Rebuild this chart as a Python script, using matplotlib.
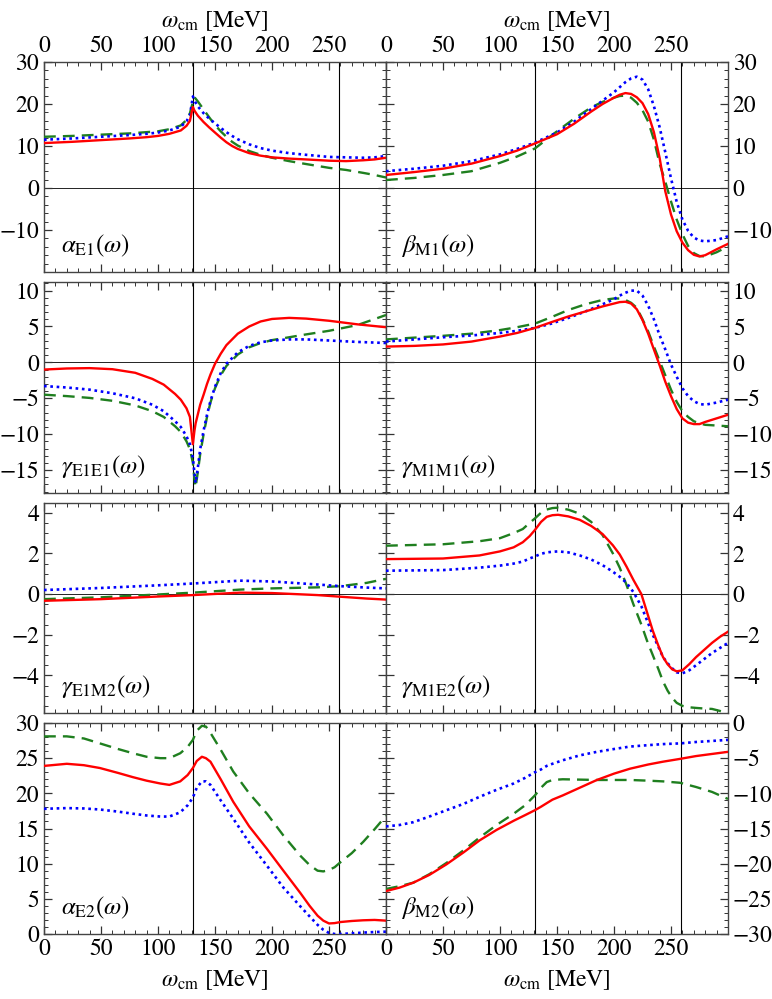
import matplotlib
matplotlib.use("Agg")
import matplotlib.pyplot as plt
from matplotlib.ticker import MultipleLocator, FixedLocator

plt.rcParams['font.family'] = ['STIXGeneral', 'DejaVu Serif']
plt.rcParams['mathtext.fontset'] = 'stix'

TH1 = 130.6
TH2 = 259.0

# ---- alpha_E1 ----
aE1_x = [0, 25, 50, 75, 90, 100, 110, 120, 125, 128, 130.6, 132, 135, 140, 145, 150, 155, 160, 165, 170, 180, 190, 200, 215, 230, 250, 265, 280, 290, 300]
aE1_red = [10.7, 11.0, 11.4, 11.8, 12.1, 12.4, 12.9, 13.7, 14.8, 16.0, 19.3, 18.4, 17.2, 15.7, 14.4, 13.2, 12.0, 10.9, 10.0, 9.3, 8.3, 7.7, 7.3, 7.0, 6.8, 6.5, 6.4, 6.6, 6.8, 7.2]
aE1_blue = [11.5, 11.8, 12.2, 12.6, 12.9, 13.2, 13.7, 14.6, 15.9, 17.3, 21.8, 20.8, 19.4, 17.8, 16.5, 15.4, 14.3, 13.3, 12.4, 11.6, 10.4, 9.5, 8.9, 8.3, 7.9, 7.4, 7.3, 7.2, 7.3, 7.6]
aE1_green = [12.2, 12.4, 12.7, 13.0, 13.3, 13.5, 14.0, 14.9, 16.2, 17.8, 20.5, 21.6, 20.6, 18.7, 16.8, 15.0, 13.5, 12.2, 11.0, 10.1, 8.8, 7.9, 7.2, 6.4, 5.7, 4.8, 4.3, 3.6, 3.1, 2.5]

# ---- beta_M1 ----
bM1_x = [0, 25, 50, 75, 100, 115, 130.6, 150, 165, 180, 190, 200, 205, 210, 215, 220, 225, 230, 235, 240, 245, 250, 255, 260, 265, 270, 275, 280, 290, 300]
bM1_red = [3.1, 3.8, 4.6, 5.8, 7.6, 8.9, 10.6, 12.8, 15.3, 18.2, 20.0, 21.5, 22.2, 22.6, 22.4, 21.6, 20.2, 17.6, 13.3, 7.2, -0.8, -6.3, -10.3, -13.0, -14.8, -15.9, -16.3, -16.0, -14.6, -13.3]
bM1_blue = [4.0, 4.6, 5.3, 6.4, 8.0, 9.3, 10.8, 13.2, 15.8, 18.8, 20.8, 22.8, 24.0, 25.2, 26.1, 26.5, 25.8, 23.5, 19.5, 14.5, 8.5, 2.3, -3.3, -7.5, -10.2, -11.8, -12.5, -12.7, -12.4, -11.5]
bM1_green = [1.9, 2.4, 3.1, 4.0, 6.0, 7.5, 9.4, 13.5, 16.5, 19.2, 20.5, 21.5, 21.9, 22.0, 21.5, 20.3, 18.5, 15.8, 11.5, 5.8, 1.5, -3.2, -7.5, -11.0, -13.8, -15.5, -16.2, -16.3, -15.3, -13.9]

# ---- gamma_E1E1 ----
gEE_x = [0, 20, 40, 60, 80, 95, 105, 115, 120, 125, 128, 130.6, 132, 133, 135, 137, 140, 143, 146, 150, 155, 160, 170, 180, 190, 200, 215, 230, 250, 275, 300]
gEE_red = [-1.0, -0.85, -0.8, -0.95, -1.45, -2.3, -3.1, -4.4, -5.2, -6.4, -7.6, -11.4, -9.5, -8.5, -7.2, -5.9, -4.5, -3.0, -1.7, -0.2, 1.2, 2.4, 4.0, 5.0, 5.7, 6.05, 6.2, 6.1, 5.8, 5.3, 4.9]
gEE_blue = [-3.3, -3.5, -3.8, -4.3, -5.0, -5.9, -6.8, -8.2, -9.0, -10.3, -11.4, -13.3, -15.5, -16.8, -14.6, -12.1, -9.5, -7.3, -5.4, -3.4, -1.5, -0.2, 1.4, 2.3, 2.8, 3.05, 3.2, 3.2, 3.05, 2.85, 2.7]
gEE_green = [-4.5, -4.7, -4.95, -5.35, -6.0, -6.8, -7.6, -8.9, -9.7, -11.0, -12.1, -14.0, -16.3, -17.4, -15.2, -12.8, -10.0, -7.6, -5.6, -3.6, -1.8, -0.5, 1.1, 2.1, 2.7, 3.1, 3.5, 3.9, 4.4, 5.2, 6.6]

# ---- gamma_M1M1 ----
gMM_x = [0, 25, 50, 75, 100, 115, 130.6, 145, 160, 175, 190, 200, 205, 210, 215, 220, 225, 230, 235, 240, 245, 250, 255, 260, 265, 270, 275, 280, 290, 300]
gMM_red = [2.2, 2.3, 2.5, 2.9, 3.6, 4.1, 4.8, 5.6, 6.4, 7.1, 7.8, 8.2, 8.4, 8.45, 8.2, 7.4, 5.9, 4.0, 1.8, -0.4, -2.7, -4.7, -6.5, -7.8, -8.4, -8.6, -8.6, -8.3, -7.8, -7.3]
gMM_blue = [2.9, 3.2, 3.5, 3.75, 4.1, 4.4, 4.8, 5.4, 6.2, 7.1, 8.1, 8.8, 9.3, 9.7, 10.0, 10.0, 9.3, 7.9, 6.0, 3.8, 1.8, -0.3, -2.0, -3.6, -4.7, -5.4, -5.8, -5.9, -5.6, -5.2]
gMM_green = [3.2, 3.45, 3.7, 4.0, 4.5, 4.9, 5.4, 6.3, 7.3, 8.1, 8.7, 8.9, 8.9, 8.7, 8.3, 7.6, 6.0, 4.3, 2.2, 0.2, -1.8, -3.8, -5.5, -6.8, -7.6, -8.2, -8.5, -8.7, -8.8, -8.9]

# ---- gamma_E1M2 ----
gEM_x = [0, 50, 100, 130.6, 172, 200, 240, 260, 283, 300]
gEM_red = [-0.33, -0.25, -0.12, -0.05, 0.07, 0.05, -0.05, -0.13, -0.22, -0.27]
gEM_blue = [0.2, 0.3, 0.43, 0.52, 0.66, 0.62, 0.47, 0.39, 0.32, 0.28]
gEM_green = [-0.25, -0.16, -0.02, 0.07, 0.22, 0.28, 0.33, 0.39, 0.55, 0.75]

# ---- gamma_M1E2 ----
gME_x = [0, 50, 82, 100, 112, 120, 126, 130.6, 136, 141, 146, 151, 160, 170, 180, 190, 199, 205, 211, 217, 224, 229, 234, 239, 243, 247, 251, 255, 260, 266, 272, 279, 286, 293, 300]
gME_red = [1.72, 1.75, 1.9, 2.1, 2.3, 2.55, 2.85, 3.15, 3.55, 3.8, 3.88, 3.9, 3.82, 3.65, 3.35, 2.95, 2.4, 1.95, 1.35, 0.7, 0.0, -0.9, -1.8, -2.55, -3.1, -3.45, -3.7, -3.8, -3.75, -3.45, -3.1, -2.75, -2.4, -2.1, -1.85]
gME_blue = [1.15, 1.18, 1.3, 1.4, 1.5, 1.6, 1.75, 1.85, 1.98, 2.05, 2.08, 2.1, 2.05, 1.9, 1.7, 1.42, 1.1, 0.85, 0.55, 0.1, -0.6, -1.3, -2.0, -2.6, -3.1, -3.4, -3.65, -3.85, -3.9, -3.75, -3.5, -3.2, -2.9, -2.65, -2.4]
gME_green = [2.38, 2.45, 2.6, 2.75, 3.0, 3.2, 3.5, 3.72, 4.0, 4.16, 4.23, 4.25, 4.15, 3.95, 3.55, 2.9, 2.0, 1.3, 0.45, -0.5, -1.5, -2.3, -3.0, -3.7, -4.3, -4.75, -5.1, -5.35, -5.5, -5.57, -5.6, -5.63, -5.65, -5.75, -5.85]

# ---- alpha_E2 ----
aE2_x = [0, 20, 35, 49, 65, 78, 90, 102, 110, 119.5, 126, 130.6, 134, 138.5, 142, 146, 155, 166, 180, 195.6, 210, 225, 233, 240, 245, 250, 255, 260, 270, 280, 290, 300]
aE2_red = [23.9, 24.2, 24.0, 23.6, 22.9, 22.3, 21.8, 21.4, 21.2, 21.7, 22.6, 23.6, 24.6, 25.2, 25.0, 24.5, 22.0, 18.8, 15.3, 12.1, 9.0, 5.8, 4.0, 2.6, 1.9, 1.5, 1.55, 1.7, 1.85, 1.95, 2.0, 1.9]
aE2_blue = [17.8, 17.9, 17.85, 17.7, 17.4, 17.1, 16.85, 16.7, 16.7, 17.3, 18.3, 19.4, 20.8, 21.7, 21.7, 21.2, 19.0, 16.4, 13.0, 9.7, 6.6, 3.9, 2.5, 1.3, 0.6, 0.15, 0.0, 0.0, 0.1, 0.2, 0.28, 0.33]
aE2_green = [28.1, 28.1, 27.8, 27.1, 26.3, 25.7, 25.2, 25.0, 25.0, 25.7, 26.6, 27.6, 28.9, 29.6, 29.5, 28.6, 26.2, 23.1, 20.0, 17.1, 14.0, 11.1, 9.8, 9.0, 8.9, 9.1, 9.5, 10.2, 11.5, 13.1, 14.9, 16.8]

# ---- beta_M2 ----
bM2_x = [0, 12, 24, 38, 53, 68, 82, 97, 112, 122, 130.6, 136, 141, 146, 155, 170, 185, 200, 214, 230, 243, 258, 272, 286, 300]
bM2_red = [-23.9, -23.4, -22.7, -21.6, -20.1, -18.4, -16.7, -15.2, -13.9, -13.1, -12.4, -11.9, -11.4, -10.9, -10.3, -9.2, -8.1, -7.2, -6.5, -5.9, -5.5, -5.1, -4.7, -4.4, -4.1]
bM2_blue = [-14.7, -14.5, -14.1, -13.3, -12.4, -11.5, -10.5, -9.5, -8.6, -7.8, -7.0, -6.6, -6.1, -5.8, -5.3, -4.6, -4.1, -3.7, -3.35, -3.15, -3.0, -2.9, -2.7, -2.55, -2.4]
bM2_green = [-23.6, -23.2, -22.7, -21.5, -19.9, -18.1, -16.3, -14.5, -12.9, -11.7, -10.3, -9.2, -8.4, -8.1, -8.0, -8.05, -8.1, -8.1, -8.1, -8.2, -8.3, -8.5, -9.1, -9.8, -10.8]

panels = [
    (0, 0, aE1_x, aE1_red, aE1_blue, aE1_green, r'$\alpha_{\mathrm{E1}}(\omega)$', (-20, 30), [-10, 0, 10, 20, 30], 2),
    (0, 1, bM1_x, bM1_red, bM1_blue, bM1_green, r'$\beta_{\mathrm{M1}}(\omega)$', (-20, 30), [-10, 0, 10, 20, 30], 2),
    (1, 0, gEE_x, gEE_red, gEE_blue, gEE_green, r'$\gamma_{\mathrm{E1E1}}(\omega)$', (-18.2, 11.2), [-15, -10, -5, 0, 5, 10], 1),
    (1, 1, gMM_x, gMM_red, gMM_blue, gMM_green, r'$\gamma_{\mathrm{M1M1}}(\omega)$', (-18.2, 11.2), [-15, -10, -5, 0, 5, 10], 1),
    (2, 0, gEM_x, gEM_red, gEM_blue, gEM_green, r'$\gamma_{\mathrm{E1M2}}(\omega)$', (-5.85, 4.48), [-4, -2, 0, 2, 4], 0.5),
    (2, 1, gME_x, gME_red, gME_blue, gME_green, r'$\gamma_{\mathrm{M1E2}}(\omega)$', (-5.85, 4.48), [-4, -2, 0, 2, 4], 0.5),
    (3, 0, aE2_x, aE2_red, aE2_blue, aE2_green, r'$\alpha_{\mathrm{E2}}(\omega)$', (0, 30), [0, 5, 10, 15, 20, 25, 30], 1),
    (3, 1, bM2_x, bM2_red, bM2_blue, bM2_green, r'$\beta_{\mathrm{M2}}(\omega)$', (-30, 0), [-30, -25, -20, -15, -10, -5, 0], 1),
]

W, H = 772, 999
fig = plt.figure(figsize=(W / 100, H / 100), dpi=100)

row_px = [(62, 272), (282, 493), (503, 713), (723, 934)]
col_px = [(44, 386), (386, 728)]

RED = '#ff0000'
BLUE = '#0000ff'
GREEN = '#1f7f1f'
FS = 17

for (r, c, x, yr, yb, yg, lab, ylim, yt, mn) in panels:
    t, b = row_px[r]
    l, rr = col_px[c]
    ax = fig.add_axes([l / W, 1 - b / H, (rr - l) / W, (b - t) / H])
    ax.set_xlim(0, 300)
    ax.set_ylim(*ylim)
    ax.axvline(TH1, color='black', lw=0.8, zorder=1)
    ax.axvline(TH2, color='black', lw=0.8, zorder=1)
    ax.axhline(0, color='black', lw=0.6, zorder=1)
    ax.plot(x, yg, color=GREEN, lw=1.7, ls=(0, (5, 3)), zorder=3, solid_joinstyle='round')
    ax.plot(x, yb, color=BLUE, lw=1.9, ls=(0, (1.0, 1.4)), zorder=4)
    ax.plot(x, yr, color=RED, lw=1.7, ls='-', zorder=5, solid_joinstyle='round')

    ax.xaxis.set_major_locator(FixedLocator([0, 50, 100, 150, 200, 250]))
    ax.xaxis.set_minor_locator(MultipleLocator(10))
    ax.yaxis.set_major_locator(FixedLocator(yt))
    ax.yaxis.set_minor_locator(MultipleLocator(mn))
    ax.tick_params(which='both', direction='in', top=True, bottom=True, left=True, right=True,
                   color='#333333', labelsize=FS)
    ax.tick_params(which='major', length=6, width=0.9)
    ax.tick_params(which='minor', length=3, width=0.7)
    for s in ax.spines.values():
        s.set_color('#444444')
        s.set_linewidth(1.0)

    ax.tick_params(labelbottom=(r == 3), labeltop=(r == 0))
    if c == 0:
        ax.tick_params(labelleft=True, labelright=False)
    else:
        ax.tick_params(labelleft=False, labelright=True)
    if r == 0:
        ax.xaxis.set_label_position('top')
        ax.set_xlabel(r'$\omega_{\mathrm{cm}}$ [MeV]', fontsize=FS, labelpad=6)
    if r == 3:
        ax.set_xlabel(r'$\omega_{\mathrm{cm}}$ [MeV]', fontsize=FS, labelpad=6)
    ax.text(0.05 if c == 0 else 0.045, 0.095, lab, transform=ax.transAxes, fontsize=FS + 1,
            ha='left', va='baseline')

fig.savefig('out.png', dpi=100)
